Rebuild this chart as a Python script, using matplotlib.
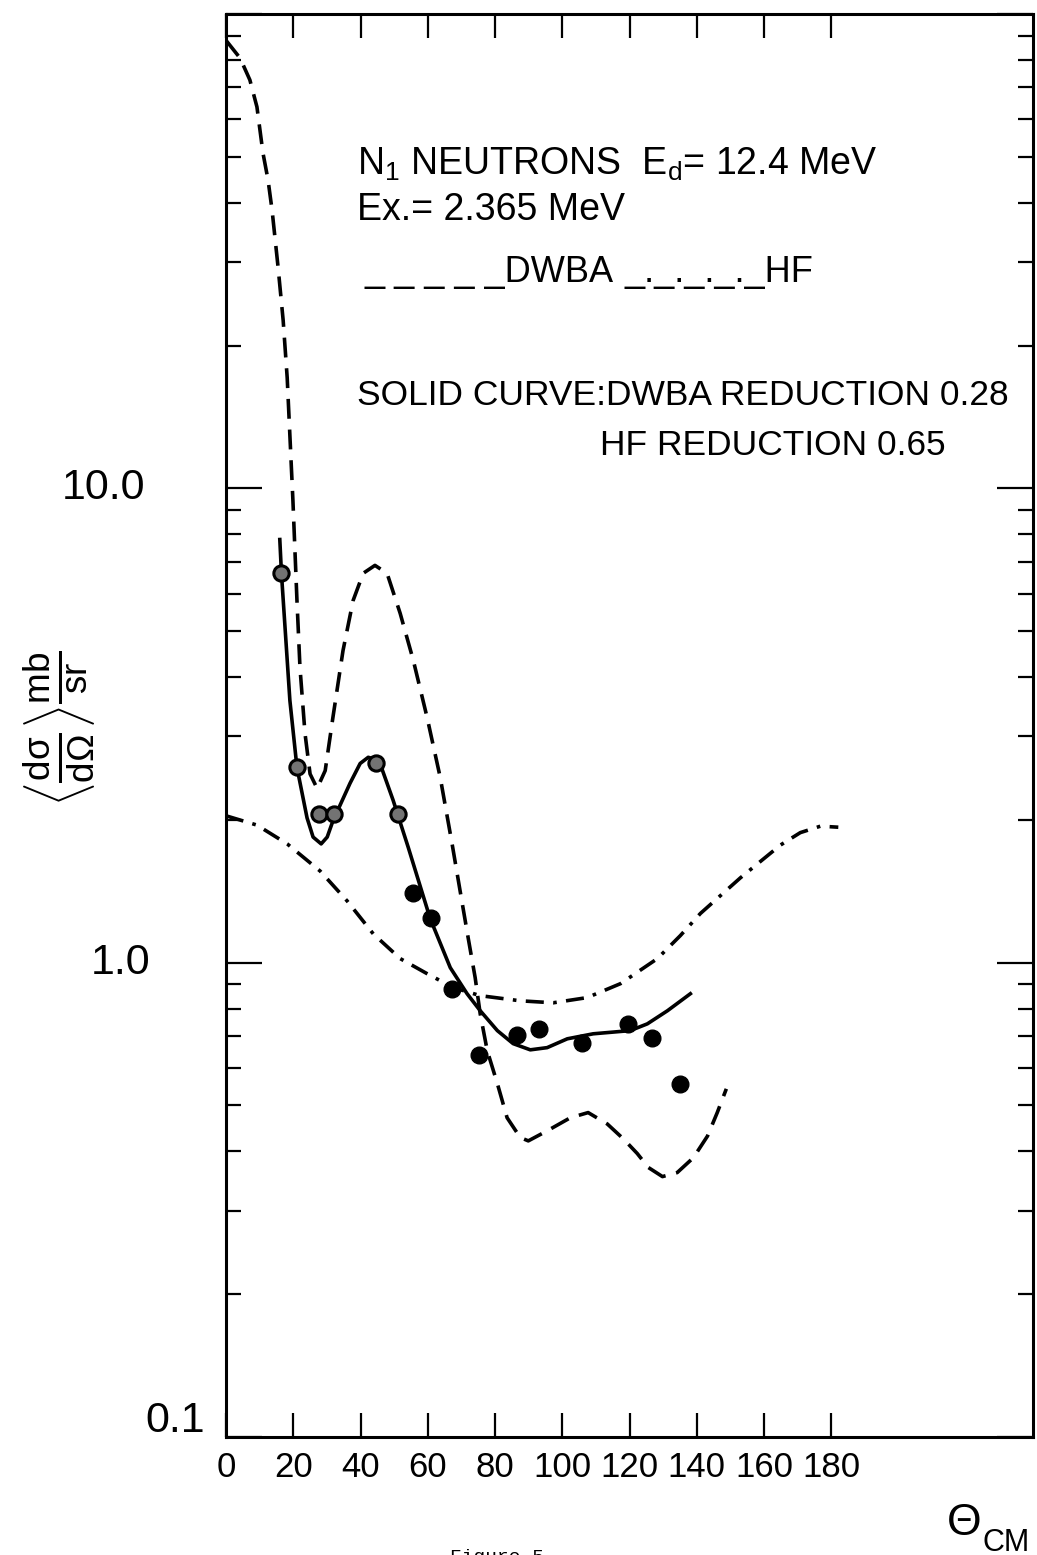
#!/usr/bin/env python
# -*- coding: utf-8 -*-

import matplotlib
matplotlib.use('Agg')
import matplotlib.pyplot as plt
import matplotlib.ticker as mt
import matplotlib.transforms as mtr

plt.rcParams['font.family'] = ['Liberation Sans', 'DejaVu Sans']
plt.rcParams['mathtext.fontset'] = 'custom'
plt.rcParams['mathtext.rm'] = 'Liberation Sans'
plt.rcParams['mathtext.it'] = 'Liberation Sans'
plt.rcParams['mathtext.sf'] = 'Liberation Sans'

# measured points (theta_cm in deg, cross section in mb/sr)
theta_exp = [16.4, 21.1, 27.7, 32.1, 44.6, 51.2, 55.7, 61.0, 67.3, 75.3,
             86.6, 93.2, 106.0, 119.6, 126.8, 135.1]
sigma_exp = [6.62, 2.58, 2.06, 2.06, 2.63, 2.06, 1.40, 1.24, 0.881, 0.640,
             0.705, 0.726, 0.678, 0.743, 0.695, 0.556]
n_open = 6  # first points drawn as circled symbols

# DWBA (dashed)
theta_dwba = [0, 4.2, 7.1, 9.2, 11.0, 12.5, 13.7, 15.5, 17.0, 18.2, 19.9, 21.1,
              22.0, 23.5, 25.0, 27.1, 29.5, 31.8, 34.8, 37.8, 40.8, 44.3, 47.9,
              51.8, 55.7, 59.8, 63.7, 67.3, 69.6, 72.0, 74.1, 75.6, 77.7, 80.7,
              83.6, 87.5, 89.9, 95.5, 102.4, 107.7, 113.4, 118.2, 122.3, 125.6,
              129.8, 134.2, 139.0, 143.2, 146.1, 148.8]
sigma_dwba = [88, 80.7, 72.6, 63.7, 50.9, 44.7, 38.6, 29.2, 22.6, 17.1, 9.43, 5.81,
              4.19, 3.04, 2.50, 2.33, 2.54, 3.29, 4.55, 5.80, 6.62, 6.88, 6.62,
              5.45, 4.34, 3.29, 2.46, 1.77, 1.42, 1.13, 0.93, 0.78, 0.652, 0.556,
              0.471, 0.428, 0.421, 0.442, 0.471, 0.483, 0.457, 0.425, 0.396, 0.370,
              0.354, 0.361, 0.388, 0.431, 0.483, 0.542]

# solid fit curve
theta_fit = [16.0, 16.5, 19.0, 21.1, 24.1, 25.9, 28.3, 30.1, 31.8, 36.9, 39.9,
             42.3, 43.8, 45.8, 49.7, 54.2, 60.7, 66.7, 71.7, 75.6, 80.7, 85.4,
             90.5, 95.5, 101.5, 109.2, 120.2, 125.3, 131.3, 138.1]
sigma_fit = [7.8, 6.6, 3.57, 2.58, 2.02, 1.84, 1.78, 1.84, 1.99, 2.39, 2.63,
             2.71, 2.69, 2.63, 2.20, 1.75, 1.24, 0.976, 0.860, 0.792, 0.719, 0.675,
             0.655, 0.662, 0.691, 0.708, 0.719, 0.743, 0.792, 0.860]

# HF (dash-dot)
theta_hf = [0, 9.2, 18.2, 28.0, 36.0, 43.8, 51.8, 59.8, 67.6, 75.6, 87.5, 97.3,
            107.4, 117.3, 128.3, 135.1, 141.1, 153.0, 164.9, 170.8, 176.8, 182.1]
sigma_hf = [2.04, 1.95, 1.78, 1.56, 1.35, 1.15, 1.02, 0.948, 0.886, 0.852, 0.831,
            0.823, 0.844, 0.903, 1.02, 1.14, 1.27, 1.51, 1.77, 1.88, 1.94, 1.93]

xticks = list(range(0, 181, 20))
ytick_labels = ['0.1', '1.0', '10.0']


def main():
    W, H = 1037, 1555
    fig = plt.figure(figsize=(W / 100., H / 100.), dpi=100)
    ax = fig.add_axes([226. / W, 1 - 1437. / H, 807. / W, 1423. / H])

    ax.plot(theta_dwba, sigma_dwba, color='black', lw=2.6, dashes=(5.5, 3.0))
    ax.plot(theta_hf, sigma_hf, color='black', lw=2.6, dashes=(5.0, 2.6, 1.0, 2.6))
    ax.plot(theta_fit, sigma_fit, color='black', lw=2.6)
    ax.plot(theta_exp[:n_open], sigma_exp[:n_open], 'o', ms=11, mfc='0.45',
            mec='black', mew=2.2, ls='none')
    ax.plot(theta_exp[n_open:], sigma_exp[n_open:], 'o', ms=12, color='black',
            ls='none')

    # range
    ax.set_yscale('log')
    ax.set_xlim(0, 240)
    ax.set_ylim(0.1, 100)

    # tune
    ax.set_xticks(xticks)
    ax.set_xticklabels([str(t) for t in xticks])
    ax.xaxis.set_minor_locator(mt.NullLocator())
    ax.yaxis.set_major_locator(mt.FixedLocator([0.1, 1, 10, 100]))
    ax.yaxis.set_minor_locator(mt.LogLocator(base=10, subs=range(2, 10)))
    ax.tick_params(axis='x', direction='in', length=17, width=1.6, top=True,
                   labelsize=25, pad=10)
    ax.tick_params(axis='y', which='major', direction='in', length=26, width=1.6,
                   right=True, labelleft=False)
    ax.tick_params(axis='y', which='minor', direction='in', length=11, width=1.6,
                   right=True, labelleft=False)
    for s in ax.spines.values():
        s.set_linewidth(2.2)

    trans = mtr.blended_transform_factory(ax.transAxes, ax.transData)
    ylab_x = [-0.026, -0.094, -0.100]
    ylab_y = [0.108, 1.0, 10.0]
    for xx, yy, lab in zip(ylab_x, ylab_y, ytick_labels):
        ax.text(xx, yy, lab, transform=trans, ha='right', va='center', fontsize=31)

    # annotations
    ta = ax.transAxes
    ax.text(0.162, 0.887, r'N$_1$ NEUTRONS  E$_{\rm d}$= 12.4 MeV', transform=ta,
            fontsize=27, va='baseline')
    ax.text(0.162, 0.855, 'Ex.= 2.365 MeV', transform=ta, fontsize=27,
            va='baseline')
    ax.text(0.172, 0.812, '_ _ _ _ _DWBA', transform=ta, fontsize=26,
            va='baseline')
    ax.text(0.494, 0.812, '_._._._._HF', transform=ta, fontsize=26,
            va='baseline')
    ax.text(0.162, 0.725, 'SOLID CURVE:DWBA REDUCTION 0.28', transform=ta,
            fontsize=25.5, va='baseline')
    ax.text(0.463, 0.690, 'HF REDUCTION 0.65', transform=ta, fontsize=25.5,
            va='baseline')

    fig.text(60. / W, 1 - 728. / H,
             r'$\left\langle\frac{d\sigma}{d\Omega}\right\rangle\frac{mb}{sr}$',
             rotation=90, fontsize=38, ha='center', va='center')
    fig.text(946. / W, 1 - 1535. / H, r'$\Theta$', fontsize=32, va='baseline')
    fig.text(983. / W, 1 - 1551. / H, 'CM', fontsize=22, va='baseline')
    fig.text(497. / W, 1 - 1562. / H, 'Figure 5', fontsize=14, ha='center',
             va='baseline', family='Liberation Mono')

    plt.savefig('out.png', dpi=100)


if __name__ == '__main__':
    main()
